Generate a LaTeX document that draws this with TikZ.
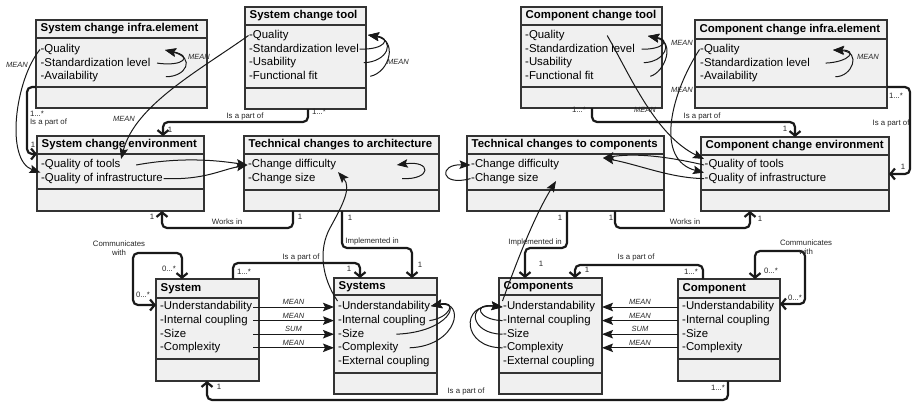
\documentclass[tikz,border=0pt]{standalone}
\usepackage{fontspec}
\setmainfont{Liberation Sans}
\usetikzlibrary{arrows.meta}

% UML class: name, x1, y1, x2, y2, header divider, body divider, title
\newcommand\umlclass[8]{%
  \shade[compart] (#2,#3) rectangle (#4,#6);
  \shade[compart] (#2,#6) rectangle (#4,#7);
  \shade[compart] (#2,#7) rectangle (#4,#5);
  \node[classbox, minimum width={#4pt-#2pt}, minimum height={#5pt-#3pt}] (#1) at ({(#2+#4)/2},{(#3+#5)/2}) {};
  \draw[classline] (#2,#6) coordinate (#1-hl) -- (#4,#6) coordinate (#1-hr);
  \draw[classline] (#2,#7) coordinate (#1-bl) -- (#4,#7) coordinate (#1-br);
  \node[classtitle] (#1-t) at ({#2+4},{(#3+#6)/2}) {#8};
}
% attribute list: class name, x, y of first row, items
\newcommand\attrs[4]{%
  \foreach \a [count=\i] in {#4} {
    \node[attr] (#1-\i) at (#2,{#3+(\i-1)*13.6}) {-\a};
  }
}

\begin{document}
\begin{tikzpicture}[x=1pt,y=-1pt,
  classbox/.style={draw=black!80, line width=1.2pt, rectangle, inner sep=0pt, outer sep=0pt},
  classline/.style={draw=black!80, line width=1.2pt},
  compart/.style={top color=gray!12, middle color=white, bottom color=gray!12},
  classtitle/.style={anchor=west, inner sep=0.5pt, font=\fontsize{11.4}{13}\selectfont\bfseries, text=black},
  attr/.style={anchor=west, inner sep=0.5pt, font=\fontsize{11.4}{13}\selectfont, text=black, text height=8.2pt, text depth=2.4pt},
  assoc/.style={draw=black!90, line width=2.2pt, rounded corners=5pt, -{Straight Barb[length=4.5pt,width=11pt]}},
  assocboth/.style={assoc, {Straight Barb[length=4.5pt,width=11pt]}-{Straight Barb[length=4.5pt,width=11pt]}},
  mean/.style={draw=black!90, line width=1pt, -{Stealth[length=11pt,width=8.5pt,inset=2pt]}},
  lab/.style={inner sep=0pt, font=\fontsize{7.8}{9}\selectfont, text=black!85},
  agg/.style={inner sep=0pt, font=\fontsize{7.5}{9}\selectfont\itshape, text=black!85},
]
\useasboundingbox (0,0) rectangle (915,405);

% ---------- classes ----------
\umlclass{sci}{36}{20}{207}{108}{38}{87}{System change infra.element}
\attrs{sci}{40}{49.5}{Quality,Standardization level,Availability}

\umlclass{sct}{245}{7}{366}{109}{25}{88}{System change tool}
\attrs{sct}{248.5}{35.5}{Quality,Standardization level,Usability,Functional fit}

\umlclass{cct}{521}{7}{662}{108}{25}{87}{Component change tool}
\attrs{cct}{524.5}{35.5}{Quality,Standardization level,Usability,Functional fit}

\umlclass{cci}{695}{20}{887}{108}{39}{87}{Component change infra.element}
\attrs{cci}{699.5}{49.5}{Quality,Standardization level,Availability}

\umlclass{sce}{37}{136}{204}{211}{154}{189}{System change environment}
\attrs{sce}{40.5}{165}{Quality of tools,Quality of infrastructure}

\umlclass{tca}{244}{136}{439}{211}{154}{190}{Technical changes to architecture}
\attrs{tca}{247.5}{165}{Change difficulty,Change size}

\umlclass{tcc}{467}{136}{664}{211}{154}{190}{Technical changes to components}
\attrs{tcc}{470.5}{165}{Change difficulty,Change size}

\umlclass{cce}{701}{137}{889}{211}{155}{190}{Component change environment}
\attrs{cce}{704}{165}{Quality of tools,Quality of infrastructure}

\umlclass{sys}{156}{279}{259}{381}{298}{359}{System}
\attrs{sys}{159.5}{307}{Understandability,Internal coupling,Size,Complexity}

\umlclass{syss}{334}{278}{437}{394}{295}{373}{Systems}
\attrs{syss}{337.5}{307}{Understandability,Internal coupling,Size,Complexity,External coupling}

\umlclass{comps}{499}{278}{602}{394}{295}{373}{Components}
\attrs{comps}{502.5}{307}{Understandability,Internal coupling,Size,Complexity,External coupling}

\umlclass{comp}{678}{279}{780}{381}{298}{359}{Component}
\attrs{comp}{681.5}{307}{Understandability,Internal coupling,Size,Complexity}

% ---------- bend points ----------
\coordinate (b1) at (163,122);
\coordinate (c1) at (162,228);
\coordinate (d1) at (412,248);
\coordinate (e1) at (750,228);
\coordinate (f1) at (525,248);
\coordinate (g1) at (795,122);
\coordinate (i1) at (133,253);
\coordinate (j1) at (805,251);
\coordinate (k1) at (360,263);
\coordinate (l1) at (575,265);
\coordinate (m1) at (207,400);

% ---------- associations ----------
\draw[assoc] (sci-bl) -- ++(-9,0) |- (sce-hl);
\node[lab] at (37,114) {1...*};
\node[lab] at (48.5,122) {Is a part of};
\node[lab] at (33,145) {1};

\draw[assoc] ([xshift=63]sct.south west) |- (b1) -- ([xshift=126]sce.north west);
\node[lab] at (319,112) {1...*};
\node[lab] at (245,116) {Is a part of};
\node[lab] at (170,130) {1};

\draw[assoc] ([xshift=49]tca.south west) |- (c1) -- ([xshift=125]sce.south west);
\node[lab] at (227,222) {Works in};
\node[lab] at (152,217) {1};
\node[lab] at (300,217) {1};

\draw[assoc] ([xshift=98]tca.south west) |- (d1) -- ([xshift=78]syss.north west);
\node[lab] at (350,218) {1};
\node[lab] at (372,241) {Implemented in};
\node[lab] at (420,265) {1};

\draw[assoc] ([xshift=148]tcc.south west) |- (e1) -- ([xshift=49]cce.south west);
\node[lab] at (611,218) {1};
\node[lab] at (685,222) {Works in};
\node[lab] at (760,219) {1};

\draw[assoc] ([xshift=100]tcc.south west) |- (f1) -- ([xshift=26]comps.north west);
\node[lab] at (560,218) {1};
\node[lab] at (535,242) {Implemented in};
\node[lab] at (541,264) {1};

\draw[assoc] ([xshift=71]cct.south west) |- (g1) -- ([xshift=94]cce.north west);
\node[lab] at (579,110) {1...*};
\node[lab] at (702,116) {Is a part of};
\node[lab] at (785,129) {1};

\draw[assoc] (cci-br) -- ++(23,0) |- (cce.east);
\node[lab] at (896,96) {1...*};
\node[lab] at (891,123) {Is a part of};
\node[lab] at (903,167) {1};

\draw[assocboth] ([xshift=26]sys.north west) |- (i1) |- ([yshift=-26]sys.north west);
\node[lab, align=center] at (119,248) {Communicates\\with};
\node[lab] at (169,269) {0...*};
\node[lab] at (143,295) {0...*};

\draw[assocboth] ([xshift=77]comp.north west) |- (j1) |- ([yshift=-25]comp.north east);
\node[lab, align=center] at (806,247) {Communicates\\with};
\node[lab] at (771,271) {0...*};
\node[lab] at (795,298) {0...*};

\draw[assoc] ([xshift=77]sys.north west) |- (k1) -- ([xshift=26]syss.north west);
\node[lab] at (244,272) {1...*};
\node[lab] at (301,257) {Is a part of};
\node[lab] at (349,269) {1};

\draw[assoc] ([xshift=25]comp.north west) |- (l1) -- ([xshift=76]comps.north west);
\node[lab] at (691,272) {1...*};
\node[lab] at (636,257) {Is a part of};
\node[lab] at (587,270) {1};

\draw[assoc] ([xshift=50]comp.south west) |- (m1) -- ([xshift=51]sys.south west);
\node[lab] at (219,387) {1};
\node[lab] at (718,388) {1...*};
\node[lab] at (466,391) {Is a part of};

% ---------- derivations inside the change elements ----------
\coordinate (sci-in) at (165,50);
\draw[mean] ([xshift=6]sci-2.east) .. controls (184,67) and (193,56) .. (sci-in);
\draw[mean] ([xshift=67]sci-3.east) .. controls (186,77) and (196,58) .. (sci-in);
\node[agg] at (199,57) {MEAN};

\coordinate (sct-in) at (368,35);
\draw[mean] (sct-2.east) .. controls (385,50) and (392,38) .. (sct-in);
\draw[mean] ([xshift=67]sct-3.east) .. controls (388,62) and (396,40) .. (sct-in);
\draw[mean] ([xshift=52]sct-4.east) .. controls (390,72) and (398,40) .. (sct-in);
\node[agg] at (398,62) {MEAN};

\coordinate (cct-in) at (648,36);
\draw[mean] ([xshift=6]cct-2.east) .. controls (662,50) and (672,40) .. (cct-in);
\draw[mean] ([xshift=71]cct-3.east) .. controls (665,62) and (674,42) .. (cct-in);
\draw[mean] ([xshift=56]cct-4.east) .. controls (665,72) and (676,42) .. (cct-in);
\node[agg] at (682,43) {MEAN};

\coordinate (cci-in) at (833,50);
\draw[mean] ([xshift=15]cci-2.east) .. controls (850,62) and (858,50) .. (cci-in);
\draw[mean] ([xshift=77]cci-3.east) .. controls (852,77) and (862,52) .. (cci-in);
\node[agg] at (868,57) {MEAN};

% ---------- change elements to environments ----------
\draw[mean] (sci-1.west) .. controls (15,80) and (5,160) .. (sce-2.north west);
\node[agg] at (17,65) {MEAN};
\draw[mean] (sct-1.west) .. controls (200,70) and (135,105) .. (sce-1.north east);
\node[agg] at (124,119) {MEAN};

\draw[mean] ([xshift=42]cct-1.east) .. controls (630,75) and (655,135) .. (cce-1.north west);
\node[agg] at (645,110) {MEAN};
\draw[mean] (cci-1.west) .. controls (670,95) and (655,160) .. (cce-2.north west);
\node[agg] at (682,90) {MEAN};

% ---------- environments to technical changes ----------
\draw[mean] ([xshift=15]sce-1.east) .. controls (180,157) and (215,160) .. (tca-1.west);
\draw[mean] (sce-2.east) .. controls (205,180) and (220,170) .. (tca-1.west);

\coordinate (tcc-in) at (603,158);
\draw[mean] (cce-1.west) .. controls (665,156) and (635,153) .. (tcc-in);
\draw[mean] (cce-2.west) .. controls (670,178) and (640,165) .. (tcc-in);

\draw[mean] ([xshift=86]tca-2.east) .. controls (432,180) and (432,160) .. ([xshift=60]tca-1.east);
\draw[mean] (tcc-2.west) .. controls (440,187) and (438,164) .. (tcc-1.west);

% ---------- systems and components ----------
\coordinate (tca-in) at (338,172);
\draw[mean] (syss-1.north west) .. controls (322,278) and (318,250) .. (330,228)
  .. controls (342,206) and (352,188) .. (tca-in);
\coordinate (tcc-in2) at (556,181);
\draw[mean] (comps-1.north west) .. controls (518,258) and (535,215) .. (tcc-in2);

\coordinate (sys-out) at (253,0);
\draw[mean] (sys-1.west -| sys-out) -- (syss-1.west -| syss.west) node[agg, midway, above=2pt] {MEAN};
\draw[mean] (sys-2.west -| sys-out) -- (syss-2.west -| syss.west) node[agg, midway, above=2pt] {MEAN};
\draw[mean] (sys-3.west -| sys-out) -- (syss-3.west -| syss.west) node[agg, midway, above=2pt] {SUM};
\draw[mean] (sys-4.west -| sys-out) -- (syss-4.west -| syss.west) node[agg, midway, above=2pt] {MEAN};

\draw[mean] (comp-1.west -| comp.west) -- (comps-1.west -| comps.east) node[agg, midway, above=2pt] {MEAN};
\draw[mean] (comp-2.west -| comp.west) -- (comps-2.west -| comps.east) node[agg, midway, above=2pt] {MEAN};
\draw[mean] (comp-3.west -| comp.west) -- (comps-3.west -| comps.east) node[agg, midway, above=2pt] {SUM};
\draw[mean] (comp-4.west -| comp.west) -- (comps-4.west -| comps.east) node[agg, midway, above=2pt] {MEAN};

\coordinate (syss-in) at (431,306);
\draw[mean] ([xshift=3]syss-2.east) .. controls (450,318) and (458,300) .. (syss-in);
\draw[mean] ([xshift=31.5]syss-3.east) .. controls (450,332) and (462,300) .. (syss-in);
\draw[mean] ([xshift=10.5]syss-4.east) .. controls (458,346) and (466,300) .. (syss-in);

\draw[mean] (comps-2.west) .. controls (478,320) and (472,303) .. (comps-1.west);
\draw[mean] (comps-3.west) .. controls (470,334) and (466,303) .. (comps-1.west);
\draw[mean] (comps-4.west) .. controls (462,348) and (460,303) .. (comps-1.west);
\end{tikzpicture}
\end{document}
